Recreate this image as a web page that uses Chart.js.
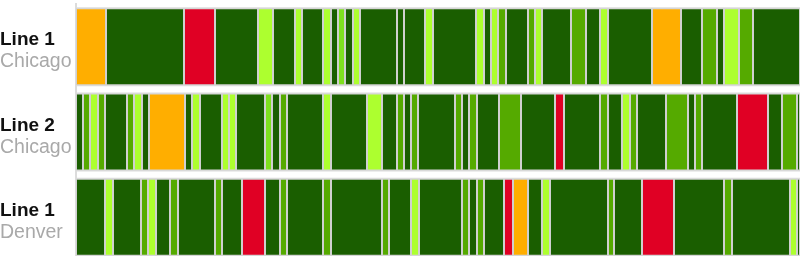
<!DOCTYPE html>
<html>
<head>
<meta charset="utf-8">
<script src="https://cdn.jsdelivr.net/npm/chart.js@4.4.1/dist/chart.umd.min.js"></script>
<style>
  html, body { margin: 0; padding: 0; background: #fff; overflow: hidden; }
  #wrap { position: relative; width: 800px; height: 260px; }
</style>
</head>
<body>
<div id="wrap"><canvas id="timeline"></canvas></div>
<script>
// rows of the status timeline
const lineNames = ['Line 1', 'Line 2', 'Line 1'];
const lineCities = ['Chicago', 'Chicago', 'Denver'];
const timelineSpan = 724;

// segment lengths (time units) and status per segment, left to right
const line1ChicagoLen = [30, 78, 31, 43, 15, 22, 7, 21, 8, 7, 7, 8, 7, 37, 7, 21, 8, 43, 8, 7, 7, 8, 22, 7, 7, 29, 15, 14, 8, 44, 29, 21, 15, 7, 15, 14, 47];
const line1ChicagoStatus = ['O', 'D', 'R', 'D', 'L', 'D', 'L', 'D', 'L', 'D', 'B', 'D', 'L', 'D', 'D', 'D', 'L', 'D', 'L', 'D', 'L', 'M', 'D', 'M', 'L', 'D', 'M', 'D', 'L', 'D', 'O', 'D', 'M', 'D', 'L', 'M', 'D'];

const line2ChicagoLen = [7, 7, 8, 7, 22, 7, 8, 7, 36, 7, 8, 22, 7, 7, 29, 7, 8, 7, 36, 8, 36, 15, 15, 7, 7, 7, 37, 7, 7, 8, 22, 22, 34, 9, 36, 8, 14, 8, 7, 29, 22, 7, 7, 35, 31, 14, 15, 3];
const line2ChicagoStatus = ['D', 'M', 'L', 'M', 'D', 'M', 'L', 'D', 'O', 'D', 'L', 'D', 'L', 'L', 'D', 'B', 'D', 'M', 'D', 'L', 'D', 'L', 'D', 'M', 'D', 'M', 'D', 'M', 'D', 'M', 'D', 'M', 'D', 'R', 'D', 'M', 'D', 'L', 'M', 'D', 'M', 'D', 'M', 'D', 'R', 'D', 'M', 'D'];

const line1DenverLen = [29, 8, 28, 7, 8, 14, 8, 37, 7, 20, 23, 15, 7, 36, 8, 51, 7, 22, 8, 43, 7, 8, 7, 20, 9, 15, 14, 8, 58, 6, 28, 32, 50, 8, 58, 7, 3];
const line1DenverStatus = ['D', 'L', 'D', 'M', 'L', 'D', 'M', 'D', 'M', 'D', 'R', 'D', 'M', 'D', 'M', 'D', 'M', 'D', 'L', 'D', 'M', 'D', 'M', 'D', 'R', 'O', 'D', 'L', 'D', 'M', 'D', 'R', 'D', 'M', 'D', 'L', 'D'];

const STATUS_COLOR = {
  D: '#1a5e00',
  M: '#55aa00',
  B: '#7ee01e',
  L: '#adff2f',
  O: '#ffae00',
  R: '#e00024',
};

const rows = [
  { len: line1ChicagoLen, status: line1ChicagoStatus },
  { len: line2ChicagoLen, status: line2ChicagoStatus },
  { len: line1DenverLen, status: line1DenverStatus },
];

const segCount = Math.max(...rows.map((r) => r.len.length));
const datasets = [];

// grey band behind each row
datasets.push({
  data: rows.map(() => timelineSpan),
  backgroundColor: '#dcdcdc',
  stack: 'band',
  grouped: false,
  order: 1,
  barPercentage: 0.926,
  categoryPercentage: 1,
});

for (let i = 0; i < segCount; i++) {
  datasets.push({
    data: rows.map((r) => (r.len[i] !== undefined ? r.len[i] : null)),
    backgroundColor: rows.map((r) => STATUS_COLOR[r.status[i]] || 'transparent'),
    borderColor: '#d0d0d0',
    borderWidth: 1,
    borderSkipped: false,
    stack: 'seg',
    order: 0,
    barPercentage: 0.902,
    categoryPercentage: 1,
  });
}

const rowLabels = {
  id: 'rowLabels',
  afterDraw(chart) {
    const { ctx } = chart;
    const yScale = chart.scales.y;
    ctx.save();
    ctx.textAlign = 'left';
    ctx.textBaseline = 'alphabetic';
    lineNames.forEach((name, i) => {
      const y = yScale.getPixelForValue(i);
      ctx.fillStyle = '#111';
      ctx.font = 'bold 19px "Liberation Sans", Arial, sans-serif';
      ctx.fillText(name, 0, y - 1.5);
      ctx.fillStyle = '#a9a9a9';
      ctx.font = '19.5px "Liberation Sans", Arial, sans-serif';
      ctx.fillText(lineCities[i], 0, y + 20.5);
    });
    ctx.restore();
  },
};

new Chart(document.getElementById('timeline'), {
  type: 'bar',
  data: { labels: lineNames.map((n, i) => n + ' ' + lineCities[i]), datasets },
  options: {
    indexAxis: 'y',
    responsive: true,
    maintainAspectRatio: false,
    animation: false,
    layout: { padding: { top: 4, right: 0, bottom: 0, left: 0 } },
    plugins: { legend: { display: false }, tooltip: { enabled: false } },
    scales: {
      x: { type: 'linear', min: 0, max: timelineSpan, stacked: true, display: false },
      y: {
        stacked: true,
        grid: { display: false },
        ticks: { display: false },
        border: { display: true, color: '#dcdcdc', width: 2 },
        afterFit(scale) { scale.width = 76; },
      },
    },
  },
  plugins: [rowLabels],
});
</script>
</body>
</html>
